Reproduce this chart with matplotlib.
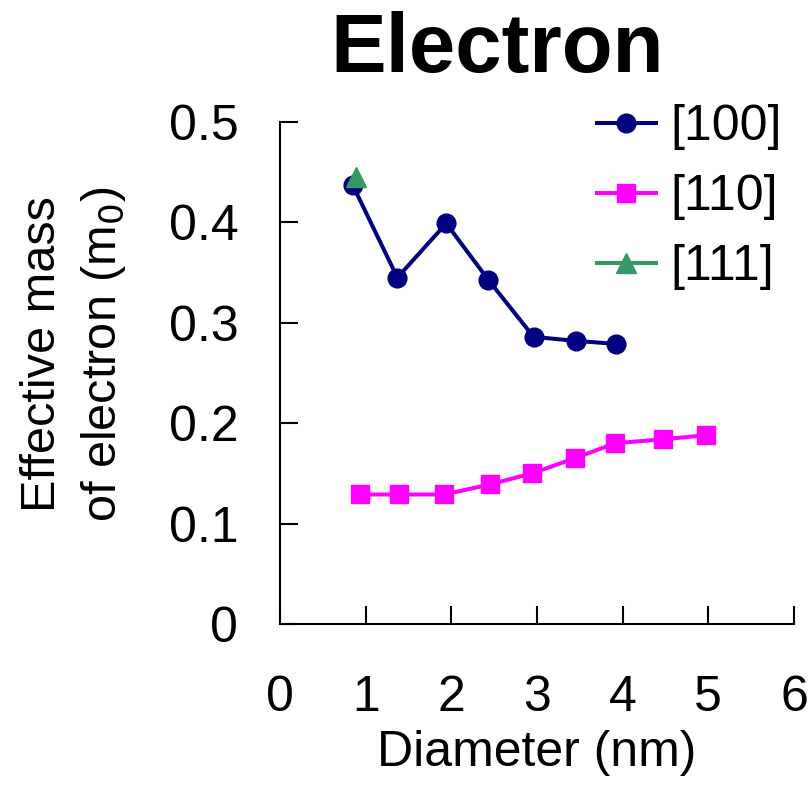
import matplotlib
matplotlib.use("Agg")
import matplotlib.pyplot as plt

plt.rcParams['font.family'] = ['Liberation Sans', 'DejaVu Sans']

# Effective mass of electron vs nanowire diameter
d_100 = [0.85, 1.37, 1.94, 2.43, 2.96, 3.45, 3.92]
m_100 = [0.437, 0.345, 0.399, 0.343, 0.286, 0.282, 0.279]

d_110 = [0.93, 1.39, 1.92, 2.45, 2.94, 3.44, 3.91, 4.47, 4.97]
m_110 = [0.129, 0.129, 0.129, 0.139, 0.150, 0.165, 0.180, 0.184, 0.188]

d_111 = [0.89]
m_111 = [0.4455]

labels = ['[100]', '[110]', '[111]']
x_ticks = [0, 1, 2, 3, 4, 5, 6]
y_ticks = [0, 0.1, 0.2, 0.3, 0.4, 0.5]

fig = plt.figure(figsize=(8.12, 7.93), dpi=100)
ax = fig.add_axes([280/812, 1-624/793, (794-280)/812, (624-122)/793])

l1, = ax.plot(d_100, m_100, '-o', color='#000080', lw=2.9, ms=13.5, label=labels[0], zorder=3)
l2, = ax.plot(d_110, m_110, '-s', color='#FF00FF', lw=2.9, ms=13.5, label=labels[1], zorder=3)
l3, = ax.plot(d_111, m_111, '-^', color='#339966', lw=2.9, ms=15, label=labels[2], zorder=4)

ax.set_xlim(0, 6)
ax.set_ylim(0, 0.5)
ax.set_xticks(x_ticks)
ax.set_yticks(y_ticks)
ax.set_xticklabels([str(v) for v in x_ticks])
ax.set_yticklabels(['0', '0.1', '0.2', '0.3', '0.4', '0.5'])

for s in ['top', 'right']:
    ax.spines[s].set_visible(False)
for s in ['left', 'bottom']:
    ax.spines[s].set_linewidth(1.5)

ax.tick_params(axis='both', direction='in', length=13, width=1.5, labelsize=36)
ax.tick_params(axis='x', pad=37)
ax.tick_params(axis='y', pad=30)

ax.set_xlabel('Diameter (nm)', fontsize=36, labelpad=6)
fig.text(74/812, 1-354/793, 'Effective mass\nof electron (m$_0$)', rotation=90,
         ha='center', va='center', fontsize=35, linespacing=1.36)

fig.text(497/812, 1-72/793, 'Electron', ha='center', va='baseline',
         fontsize=60, fontweight='bold')

leg = ax.legend(handles=[l1, l2, l3], loc='upper left',
                bbox_to_anchor=(597/812, 1-104/793), bbox_transform=fig.transFigure,
                frameon=False, fontsize=36, handlelength=1.18, handletextpad=0.28,
                labelspacing=0.48, borderpad=0, borderaxespad=0)

fig.savefig('out.png', dpi=100)
